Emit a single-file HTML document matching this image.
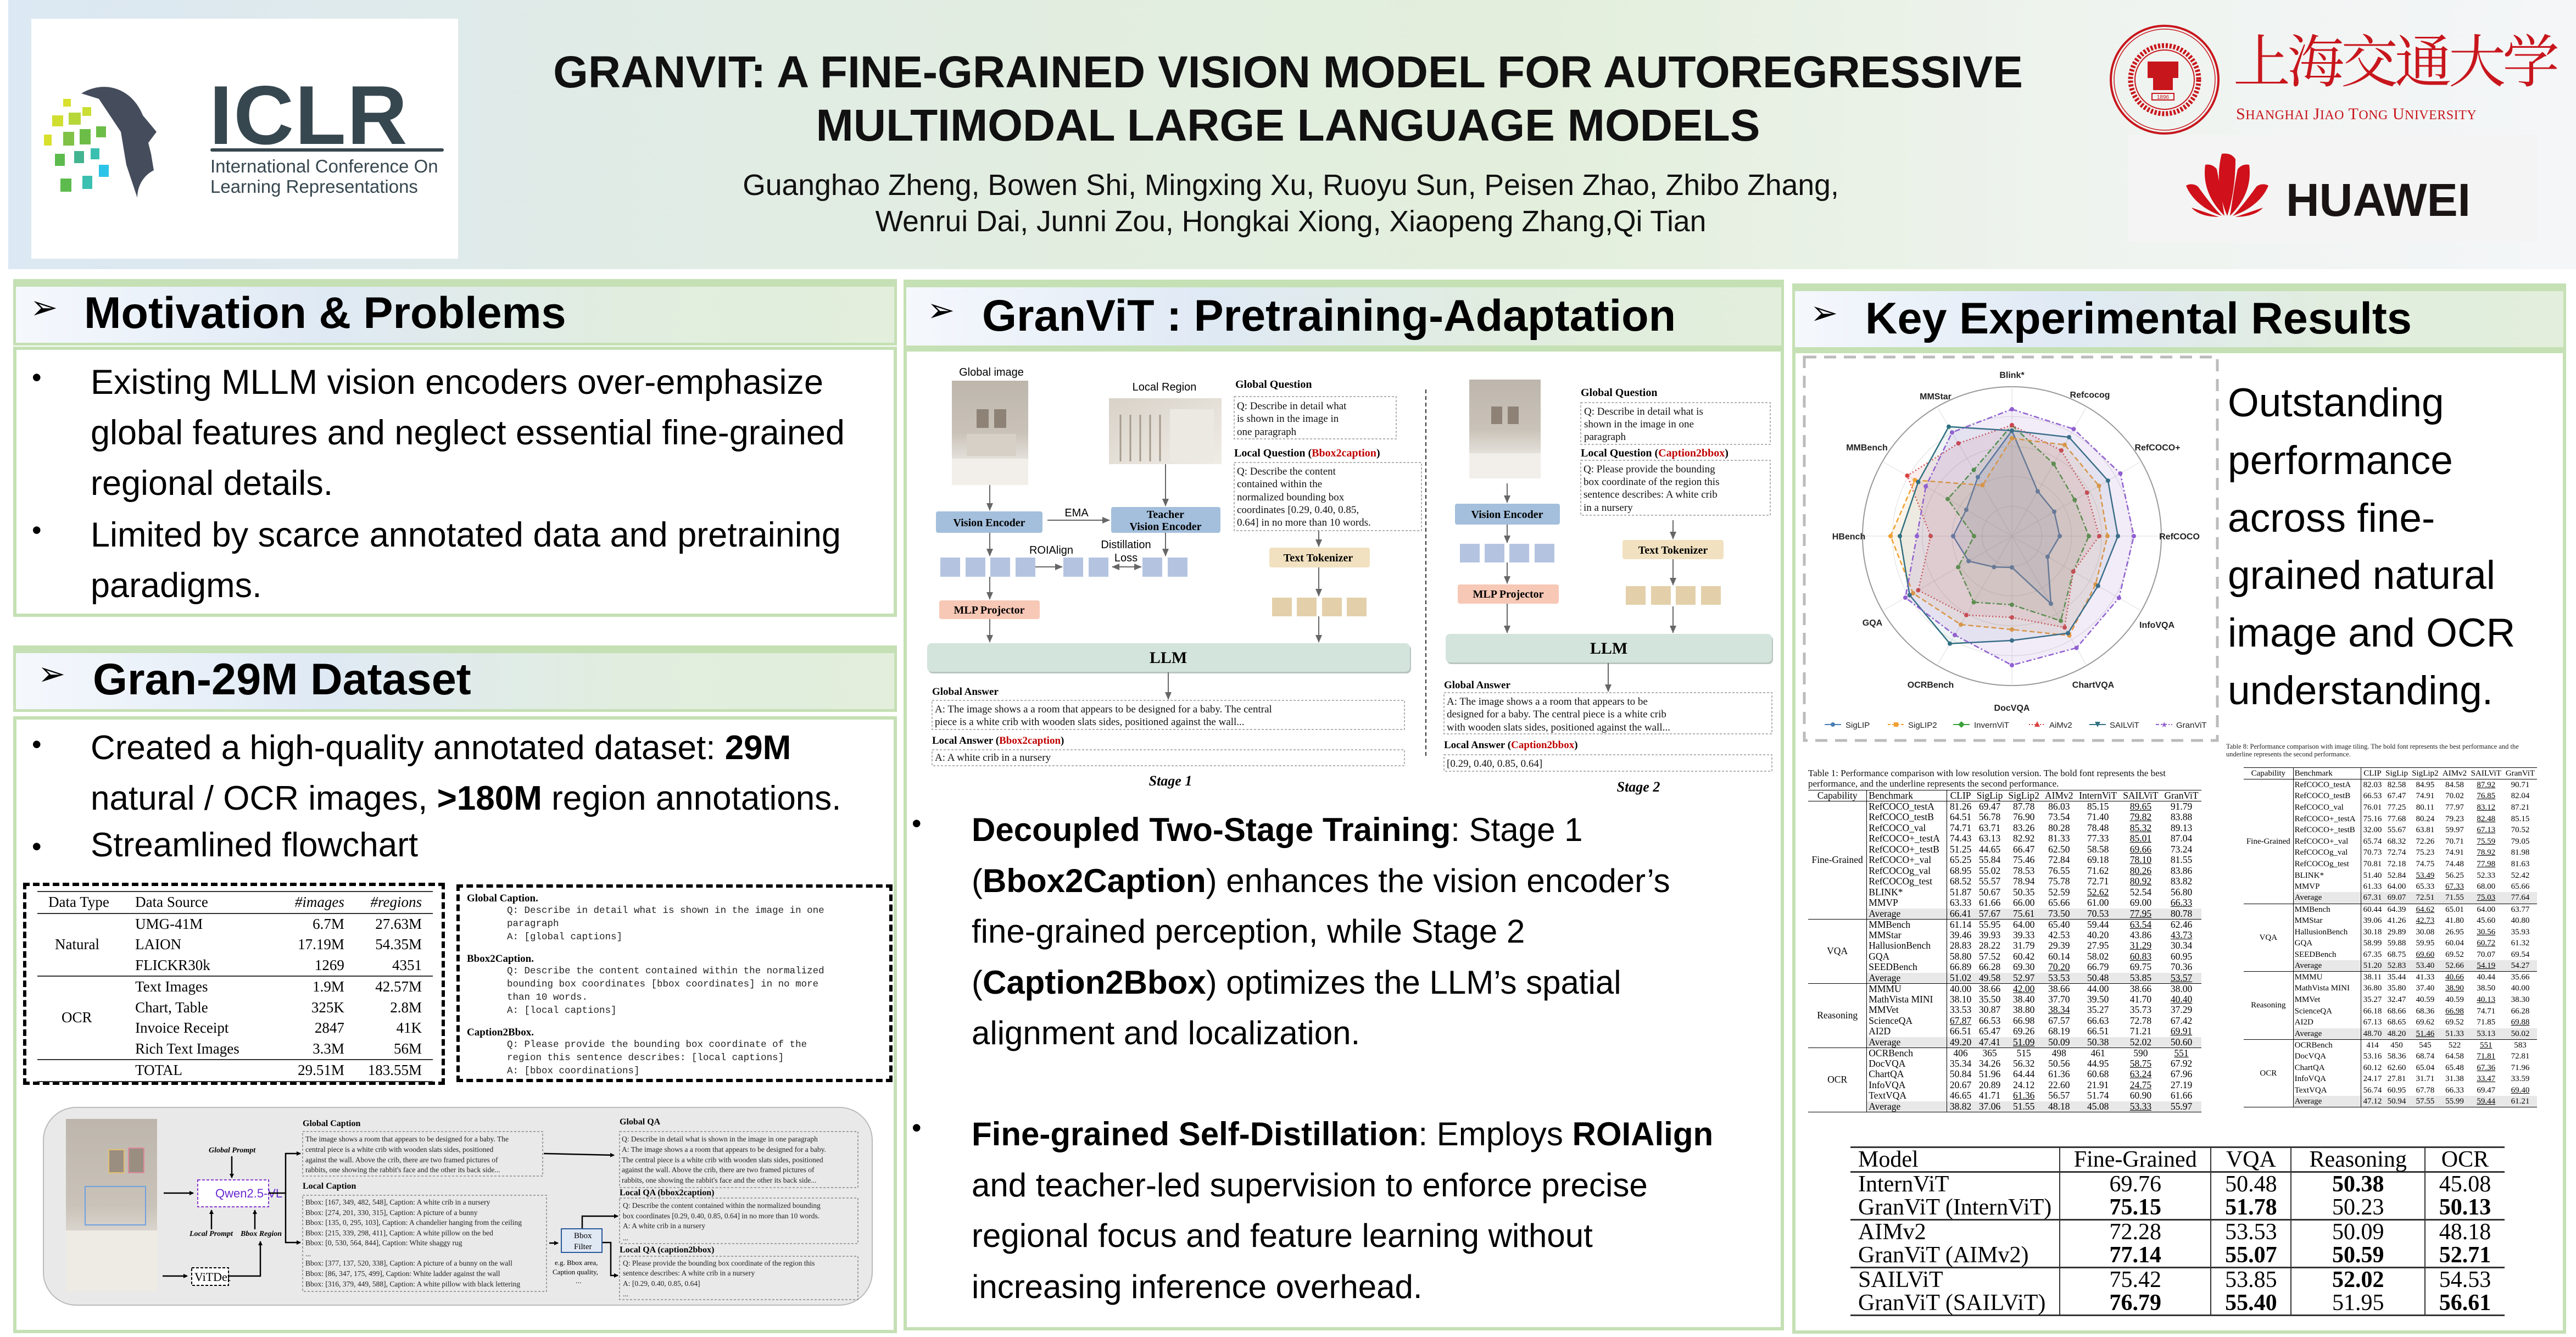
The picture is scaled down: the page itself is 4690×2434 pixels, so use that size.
<!DOCTYPE html>
<html><head><meta charset="utf-8">
<style>
*{margin:0;padding:0;box-sizing:border-box}
body{width:4690px;height:2434px;position:relative;background:#fff;font-family:"Liberation Sans",Arial,sans-serif;color:#000;overflow:hidden}
.a{position:absolute}
.hdr{position:absolute;border:5px solid #c5e0b4;border-top:14px solid #c5e0b4;background:linear-gradient(to right,#f5f8fd 0%,#dfe9f4 35%,#e1edde 70%,#e3efdc 100%)}
.hdr span{position:absolute;font-weight:bold;font-size:81px;white-space:nowrap;line-height:1}
.box{position:absolute;border:6px solid #c5e0b4;background:#fff}
.bl{position:absolute;font-size:60px;white-space:nowrap;line-height:1}
.dot{position:absolute;font-size:50px;line-height:1}
table{border-collapse:collapse;font-family:"Liberation Serif",serif}
.t1 td,.t1 th{font-size:17.5px;font-weight:normal;padding:0 3px;height:19.5px;line-height:19px;white-space:nowrap}
.t8 td,.t8 th{font-size:15px;font-weight:normal;padding:0 2px;height:20.6px;line-height:20px;white-space:nowrap}
.num td{text-align:center}
.gr td{background:#e8e8e8}
.bt{border-top:1.5px solid #000}
.vl{border-left:1px solid #000}
.b{font-weight:bold}
.u{text-decoration:underline}
.t3 td{font-family:"Liberation Serif",serif;font-size:42px;line-height:42px;height:42.5px;padding:0 14px;white-space:nowrap}
</style></head><body>

<!-- HEADER -->
<div class="a" style="left:15px;top:0;width:4675px;height:490px;background:linear-gradient(to right,#dce8f3 0%,#e1ece3 30%,#e3efdc 60%,#eef3ee 80%,#f4f6f8 100%)"></div>
<div class="a" style="left:57px;top:34px;width:777px;height:437px;background:#fff"></div>
<div class="a" style="left:381px;top:134px;font-size:152px;font-weight:bold;color:#37474f;line-height:1;letter-spacing:2px">ICLR</div>
<div class="a" style="left:383px;top:270px;width:425px;height:6px;background:#37474f;border-radius:3px"></div>
<div class="a" style="left:383px;top:284px;font-size:33px;color:#37474f;line-height:37px;white-space:nowrap">International Conference On<br>Learning Representations</div>
<svg class="a" style="left:70px;top:150px" width="260" height="215" viewBox="0 0 260 215">
<path d="M78 20 C120 -5 170 10 190 60 L215 90 L200 110 L205 130 L210 160 C190 170 180 190 180 210 L160 150 L150 90 L130 60 L110 30 Z" fill="#454d5c"/>
<g fill="#9cc93f"><rect x="45" y="30" width="14" height="14" fill="#d8e02c"/><rect x="25" y="60" width="20" height="20" fill="#d0de30"/><rect x="55" y="55" width="22" height="22" fill="#b6d63a"/><rect x="80" y="45" width="16" height="16" fill="#cade33"/><rect x="10" y="95" width="14" height="20" fill="#d8e02c"/><rect x="45" y="90" width="20" height="25" fill="#7fc245"/><rect x="75" y="85" width="20" height="28" fill="#6cbd47"/><rect x="105" y="80" width="18" height="20" fill="#6cbd47"/><rect x="30" y="130" width="18" height="22" fill="#5dbb4d"/><rect x="65" y="125" width="18" height="22" fill="#43b48f"/><rect x="95" y="120" width="16" height="20" fill="#3abfb0"/><rect x="110" y="150" width="18" height="22" fill="#2bc3e8"/><rect x="40" y="175" width="20" height="24" fill="#5dbb4d"/><rect x="80" y="170" width="18" height="24" fill="#3abfb0"/></g>
</svg>

<div class="a" style="left:937px;top:91px;width:2816px;text-align:center;font-size:82px;font-weight:bold;color:#111;line-height:1;white-space:nowrap">GRANVIT: A FINE-GRAINED VISION MODEL FOR AUTOREGRESSIVE</div>
<div class="a" style="left:937px;top:188px;width:2816px;text-align:center;font-size:82px;font-weight:bold;color:#111;line-height:1;white-space:nowrap">MULTIMODAL LARGE LANGUAGE MODELS</div>
<div class="a" style="left:1200px;top:305px;width:2300px;text-align:center;font-size:53.5px;line-height:66px;color:#111;white-space:nowrap">Guanghao Zheng, Bowen Shi, Mingxing Xu, Ruoyu Sun, Peisen Zhao, Zhibo Zhang,<br>Wenrui Dai, Junni Zou, Hongkai Xiong, Xiaopeng Zhang,Qi Tian</div>

<!-- SJTU -->
<svg class="a" style="left:3838px;top:42px" width="206" height="206" viewBox="0 0 206 206">
<circle cx="103" cy="103" r="98" fill="none" stroke="#c8161d" stroke-width="4"/>
<circle cx="103" cy="103" r="92" fill="none" stroke="#c8161d" stroke-width="1.5"/>
<circle cx="103" cy="103" r="62" fill="none" stroke="#c8161d" stroke-width="9" stroke-dasharray="4 3"/>
<circle cx="103" cy="103" r="54" fill="none" stroke="#c8161d" stroke-width="2"/>
<rect x="72" y="70" width="56" height="30" fill="#c8161d"/><rect x="82" y="100" width="36" height="22" fill="#c8161d"/>
<rect x="80" y="128" width="40" height="12" fill="none" stroke="#c8161d" stroke-width="2"/>
<text x="100" y="138" font-size="10" fill="#c8161d" text-anchor="middle" font-family="Liberation Sans">1896</text>
</svg>
<div class="a" style="left:4066px;top:52px;font-family:'Noto Serif CJK SC','Noto Sans CJK SC',serif;font-size:104px;color:#c8161d;line-height:1;white-space:nowrap;letter-spacing:-6px">上海交通大学</div>
<div class="a" style="left:4071px;top:193px;font-family:'Liberation Serif',serif;font-size:30px;color:#c8161d;white-space:nowrap;line-height:1;letter-spacing:0.5px">S<span style="font-size:24px">HANGHAI</span> J<span style="font-size:24px">IAO</span> T<span style="font-size:24px">ONG</span> U<span style="font-size:24px">NIVERSITY</span></div>
<div class="a" style="left:3874px;top:246px;width:746px;height:194px;background:#f4f4f4"></div>
<svg class="a" style="left:3970px;top:278px" width="170" height="118" viewBox="0 0 170 118">
<g fill="#d0101a">
<path d="M85 115 C70 80 65 40 75 2 C88 0 96 5 100 12 C100 50 95 85 85 115Z"/>
<path d="M80 115 C55 90 40 60 45 22 C55 20 62 25 66 30 C72 60 76 90 80 115Z"/>
<path d="M90 115 C115 90 130 60 125 22 C115 20 108 25 104 30 C98 60 94 90 90 115Z"/>
<path d="M75 115 C45 105 20 85 10 60 C18 55 28 58 32 62 C45 80 60 100 75 115Z"/>
<path d="M95 115 C125 105 150 85 160 60 C152 55 142 58 138 62 C125 80 110 100 95 115Z"/>
<path d="M72 117 C50 117 30 112 20 100 L70 117Z"/>
<path d="M98 117 C120 117 140 112 150 100 L100 117Z"/>
</g></svg>
<div class="a" style="left:4162px;top:322px;font-size:84px;font-weight:bold;color:#1a1414;line-height:1">HUAWEI</div>

<!-- COLUMN 1 -->
<div class="hdr" style="left:24px;top:508px;width:1609px;height:121px"><span style="left:26px;top:8px;font-size:60px;font-weight:normal">➢</span><span style="left:124px;top:8px">Motivation &amp; Problems</span></div>
<div class="box" style="left:24px;top:631px;width:1609px;height:492px"></div>
<div class="dot" style="left:58px;top:662px">•</div>
<div class="bl" style="left:165px;top:650px;line-height:92px;font-size:63px">Existing MLLM vision encoders over-emphasize<br>global features and neglect essential fine-grained<br>regional details.</div>
<div class="dot" style="left:58px;top:940px">•</div>
<div class="bl" style="left:165px;top:928px;line-height:92px;font-size:63px">Limited by scarce annotated data and pretraining<br>paradigms.</div>

<div class="hdr" style="left:24px;top:1175px;width:1609px;height:121px"><span style="left:40px;top:8px;font-size:60px;font-weight:normal">➢</span><span style="left:140px;top:8px">Gran-29M Dataset</span></div>
<div class="box" style="left:24px;top:1304px;width:1609px;height:1123px"></div>
<div class="dot" style="left:58px;top:1330px">•</div>
<div class="bl" style="left:165px;top:1316px;line-height:92px;font-size:62px">Created a high-quality annotated dataset: <b>29M</b><br>natural / OCR images, <b>&gt;180M</b> region annotations.</div>
<div class="dot" style="left:58px;top:1516px">•</div>
<div class="bl" style="left:165px;top:1508px;font-size:62px">Streamlined flowchart</div>

<!-- dataset table -->
<div class="a" style="left:42px;top:1607px;width:768px;height:368px;border:6px dashed #000"></div>
<div class="a" style="left:831px;top:1610px;width:794px;height:360px;border:6px dashed #000"></div>
<table class="a" style="left:68px;top:1622px;width:720px;font-size:27px;line-height:37.5px;border-top:2px solid #333;border-bottom:2px solid #333">
<tr style="border-bottom:2px solid #333"><td style="padding-left:20px">Data Type</td><td>Data Source</td><td style="text-align:right;font-style:italic">#images</td><td style="text-align:right;font-style:italic;padding-right:20px">#regions</td></tr>
<tr><td rowspan="3" style="padding-left:32px">Natural</td><td>UMG-41M</td><td align="right">6.7M</td><td align="right" style="padding-right:20px">27.63M</td></tr>
<tr><td>LAION</td><td align="right">17.19M</td><td align="right" style="padding-right:20px">54.35M</td></tr>
<tr style="border-bottom:2px solid #333"><td>FLICKR30k</td><td align="right">1269</td><td align="right" style="padding-right:20px">4351</td></tr>
<tr><td rowspan="4" style="padding-left:44px">OCR</td><td>Text Images</td><td align="right">1.9M</td><td align="right" style="padding-right:20px">42.57M</td></tr>
<tr><td>Chart, Table</td><td align="right">325K</td><td align="right" style="padding-right:20px">2.8M</td></tr>
<tr><td>Invoice Receipt</td><td align="right">2847</td><td align="right" style="padding-right:20px">41K</td></tr>
<tr style="border-bottom:2px solid #333"><td>Rich Text Images</td><td align="right">3.3M</td><td align="right" style="padding-right:20px">56M</td></tr>
<tr><td></td><td>TOTAL</td><td align="right">29.51M</td><td align="right" style="padding-right:20px">183.55M</td></tr>
</table>
<div class="a" style="left:850px;top:1624px;font-family:'Liberation Serif',serif;font-weight:bold;font-size:19px;line-height:24px;white-space:nowrap">Global Caption.</div>
<div class="a" style="left:923px;top:1646px;font-family:'Liberation Mono',monospace;font-size:17.5px;line-height:24px;white-space:nowrap;color:#222">Q: Describe in detail what is shown in the image in one<br>paragraph<br>A: [global captions]</div>
<div class="a" style="left:850px;top:1734px;font-family:'Liberation Serif',serif;font-weight:bold;font-size:19px;line-height:24px">Bbox2Caption.</div>
<div class="a" style="left:923px;top:1756px;font-family:'Liberation Mono',monospace;font-size:17.5px;line-height:24px;white-space:nowrap;color:#222">Q: Describe the content contained within the normalized<br>bounding box coordinates [bbox coordinates] in no more<br>than 10 words.<br>A: [local captions]</div>
<div class="a" style="left:850px;top:1868px;font-family:'Liberation Serif',serif;font-weight:bold;font-size:19px;line-height:24px">Caption2Bbox.</div>
<div class="a" style="left:923px;top:1890px;font-family:'Liberation Mono',monospace;font-size:17.5px;line-height:24px;white-space:nowrap;color:#222">Q: Please provide the bounding box coordinate of the<br>region this sentence describes:  [local captions]<br>A: [bbox coordinations]</div>

<!-- flowchart -->
<svg class="a" style="left:0;top:0" width="4690" height="2434" viewBox="0 0 4690 2434">
<defs>
<marker id="ah" markerWidth="8" markerHeight="8" refX="7" refY="4" orient="auto" markerUnits="userSpaceOnUse"><path d="M0 0 L8 4 L0 8Z" fill="#000"/></marker>
<marker id="ag" markerWidth="14" markerHeight="12" refX="13" refY="6" orient="auto" markerUnits="userSpaceOnUse"><path d="M0 0 L14 6 L0 12Z" fill="#666"/></marker>
<marker id="ag2" markerWidth="14" markerHeight="12" refX="1" refY="6" orient="auto" markerUnits="userSpaceOnUse"><path d="M14 0 L0 6 L14 12Z" fill="#666"/></marker>
<linearGradient id="room" x1="0" y1="0" x2="0" y2="1"><stop offset="0" stop-color="#bdb6ac"/><stop offset="0.5" stop-color="#c9c2b8"/><stop offset="0.8" stop-color="#e9e6e1"/><stop offset="1" stop-color="#d8d3cc"/></linearGradient>
<linearGradient id="crib" x1="0" y1="0" x2="1" y2="1"><stop offset="0" stop-color="#d8d2c8"/><stop offset="1" stop-color="#f0ece6"/></linearGradient>
</defs>
<rect x="79" y="2016" width="1509" height="360" rx="60" fill="#e9e9e9" stroke="#bbb" stroke-width="2"/>
<rect x="120" y="2037" width="166" height="314" fill="url(#room)"/>
<rect x="120" y="2240" width="166" height="111" fill="#eeeae4"/>
<rect x="198" y="2093" width="28" height="42" fill="#9a8e80" stroke="#e4c070" stroke-width="2"/><rect x="234" y="2090" width="28" height="45" fill="#9a8e80" stroke="#e08aa0" stroke-width="2"/>
<rect x="155" y="2160" width="110" height="70" fill="none" stroke="#6ea0e0" stroke-width="2"/>
<rect x="360" y="2148" width="129" height="49" fill="#fff" stroke="#8a3ad0" stroke-width="2" stroke-dasharray="5 3"/>
<text x="392" y="2180" font-family="Liberation Sans" font-size="22" fill="#6a2bd0">Qwen2.5-VL</text>
<rect x="349" y="2308" width="67" height="32" fill="#fff" stroke="#000" stroke-width="2" stroke-dasharray="5 3"/>
<text x="354" y="2332" font-family="Liberation Serif" font-size="22">ViTDet</text>
<g font-family="Liberation Serif" font-style="italic" font-weight="bold" font-size="14">
<text x="380" y="2098">Global Prompt</text><text x="345" y="2250">Local Prompt</text><text x="438" y="2250">Bbox Region</text></g>
<g stroke="#000" stroke-width="2.5" fill="none" marker-end="url(#ah)">
<path d="M298 2172 L352 2172"/><path d="M422 2105 L422 2144"/><path d="M385 2238 L385 2203"/><path d="M464 2238 L464 2203"/>
<path d="M296 2323 L341 2323"/><path d="M416 2323 L474 2323 L474 2260"/>
<path d="M489 2172 L520 2172 L520 2100 L547 2100"/><path d="M520 2172 L520 2262 L547 2262"/>
<path d="M990 2100 L1118 2103"/><path d="M1000 2263 L1016 2263"/>
<path d="M1060 2237 L1060 2214 L1125 2214"/><path d="M1096 2262 L1112 2262 L1112 2322 L1125 2322"/></g>
<rect x="1022" y="2237" width="74" height="43" fill="#e0e8f4" stroke="#2a5a9a" stroke-width="2"/>
<text x="1045" y="2254" font-family="Liberation Serif" font-size="15">Bbox</text><text x="1045" y="2274" font-family="Liberation Serif" font-size="15">Filter</text>
<text x="1010" y="2303" font-family="Liberation Serif" font-size="13">e.g. Bbox area,</text><text x="1006" y="2320" font-family="Liberation Serif" font-size="13">Caption quality,</text><text x="1048" y="2336" font-size="13">...</text>
<g fill="none" stroke="#888" stroke-width="1.5" stroke-dasharray="4 3">
<rect x="551" y="2060" width="437" height="81"/><rect x="551" y="2176" width="444" height="175"/>
<rect x="1128" y="2060" width="434" height="102"/><rect x="1128" y="2181" width="434" height="83"/><rect x="1128" y="2287" width="434" height="79"/></g>
<g font-family="Liberation Serif" font-weight="bold" font-size="16">
<text x="551" y="2050">Global Caption</text><text x="551" y="2164">Local Caption</text><text x="1128" y="2047">Global QA</text><text x="1128" y="2176">Local QA (bbox2caption)</text><text x="1128" y="2280">Local QA (caption2bbox)</text></g>
<g font-family="Liberation Serif" font-size="13.5" fill="#222">
<text x="556" y="2078">The image shows a room that appears to be designed for a baby. The</text>
<text x="556" y="2097">central piece is a white crib with wooden slats sides, positioned</text>
<text x="556" y="2116">against the wall. Above the crib, there are two framed pictures of</text>
<text x="556" y="2134">rabbits, one showing the rabbit's face and the other its back side...</text>
<text x="556" y="2193">Bbox: [167, 349, 482, 548], Caption: A white crib in a nursery</text>
<text x="556" y="2212">Bbox: [274, 201, 330, 315], Caption: A picture of a bunny</text>
<text x="556" y="2230">Bbox: [135, 0, 295, 103], Caption: A chandelier hanging from the ceiling</text>
<text x="556" y="2249">Bbox: [215, 339, 298, 411], Caption: A white pillow on the bed</text>
<text x="556" y="2267">Bbox: [0, 530, 564, 844], Caption: White shaggy rug</text>
<text x="556" y="2287">...</text>
<text x="556" y="2304">Bbox: [377, 137, 520, 338], Caption: A picture of a bunny on the wall</text>
<text x="556" y="2323">Bbox: [86, 347, 175, 499], Caption: White ladder against the wall</text>
<text x="556" y="2342">Bbox: [316, 379, 449, 588], Caption: A white pillow with black lettering</text>
<text x="1132" y="2078">Q: Describe in detail what is shown in the image in one paragraph</text>
<text x="1132" y="2097">A: The image shows a a room that appears to be designed for a baby.</text>
<text x="1132" y="2116">The central piece is a white crib with wooden slats sides, positioned</text>
<text x="1132" y="2134">against the wall. Above the crib, there are two framed pictures of</text>
<text x="1132" y="2153">rabbits, one showing the rabbit's face and the other its back side...</text>
<text x="1134" y="2199">Q: Describe the content contained within the normalized bounding</text>
<text x="1134" y="2218">box coordinates [0.29, 0.40, 0.85, 0.64] in no more than 10 words.</text>
<text x="1134" y="2236">A: A white crib in a nursery</text><text x="1134" y="2258">...</text>
<text x="1134" y="2304">Q: Please provide the bounding box coordinate of the region this</text>
<text x="1134" y="2322">sentence describes: A white crib in a nursery</text>
<text x="1134" y="2341">A: [0.29, 0.40, 0.85, 0.64]</text><text x="1134" y="2360">...</text>
</g>

<!-- MIDDLE FIGURE -->
<g font-family="Liberation Sans">
<text x="1805" y="684" font-size="20" text-anchor="middle">Global image</text>
<rect x="1733" y="693" width="139" height="190" fill="url(#room)"/>
<rect x="1733" y="835" width="139" height="48" fill="#f2efea"/>
<rect x="1778" y="745" width="22" height="34" fill="#8e8276"/><rect x="1810" y="745" width="22" height="34" fill="#8e8276"/>
<rect x="1760" y="790" width="90" height="40" fill="#d6d0c6"/>
<text x="2120" y="711" font-size="20" text-anchor="middle">Local Region</text>
<rect x="2019" y="725" width="205" height="120" fill="url(#crib)"/>
<g stroke="#a59a8c" stroke-width="3"><line x1="2040" y1="755" x2="2040" y2="840"/><line x1="2058" y1="755" x2="2058" y2="840"/><line x1="2076" y1="755" x2="2076" y2="840"/><line x1="2094" y1="755" x2="2094" y2="840"/><line x1="2112" y1="755" x2="2112" y2="840"/></g>
<rect x="2130" y="745" width="80" height="95" fill="#ece8e2"/>

<text x="2249" y="706" font-family="Liberation Serif" font-weight="bold" font-size="20">Global Question</text>
<text x="2247" y="831" font-family="Liberation Serif" font-weight="bold" font-size="20">Local Question (<tspan fill="#c00000">Bbox2caption</tspan>)</text>
<text x="2878" y="721" font-family="Liberation Serif" font-weight="bold" font-size="20">Global Question</text>
<text x="2878" y="831" font-family="Liberation Serif" font-weight="bold" font-size="20">Local Question (<tspan fill="#c00000">Caption2bbox</tspan>)</text>
<g fill="none" stroke="#999" stroke-width="1.5" stroke-dasharray="4 3">
<rect x="2247" y="722" width="295" height="77"/><rect x="2247" y="842" width="341" height="124"/>
<rect x="2878" y="733" width="345" height="76"/><rect x="2878" y="838" width="345" height="100"/>
<rect x="1697" y="1275" width="860" height="53"/><rect x="1697" y="1365" width="860" height="29"/>
<rect x="2629" y="1261" width="597" height="75"/><rect x="2629" y="1374" width="597" height="30"/></g>
<line x1="2596" y1="709" x2="2596" y2="1377" stroke="#333" stroke-width="2" stroke-dasharray="7 5"/>
<g font-family="Liberation Serif" font-size="19" fill="#111">
<text x="2252" y="745">Q: Describe in detail what</text><text x="2252" y="768">is shown in the image in</text><text x="2252" y="792">one paragraph</text>
<text x="2252" y="864">Q: Describe the content</text><text x="2252" y="887">contained within the</text><text x="2252" y="911">normalized bounding box</text><text x="2252" y="934">coordinates [0.29, 0.40, 0.85,</text><text x="2252" y="957">0.64] in no more than 10 words.</text>
<text x="2884" y="755">Q: Describe in detail what is</text><text x="2884" y="778">shown in the image in one</text><text x="2884" y="801">paragraph</text>
<text x="2883" y="860">Q: Please provide the bounding</text><text x="2883" y="883">box coordinate of the region this</text><text x="2883" y="906">sentence describes: A white crib</text><text x="2883" y="930">in a nursery</text>
<text x="1702" y="1297">A: The image shows a a room that appears to be designed for a baby. The central</text>
<text x="1702" y="1320">piece is a white crib with wooden slats sides, positioned against the wall...</text>
<text x="1702" y="1385">A: A white crib in a nursery</text>
<text x="2634" y="1283">A: The image shows a a room that appears to be</text><text x="2634" y="1306">designed for a baby. The central piece is a white crib</text><text x="2634" y="1330">with wooden slats sides, positioned against the wall...</text>
<text x="2634" y="1396">[0.29, 0.40, 0.85, 0.64]</text>
</g>
<g font-family="Liberation Serif" font-weight="bold" font-size="19">
<text x="1697" y="1265">Global Answer</text><text x="1697" y="1354">Local Answer (<tspan fill="#c00000">Bbox2caption</tspan>)</text>
<text x="2629" y="1253">Global Answer</text><text x="2629" y="1362">Local Answer (<tspan fill="#c00000">Caption2bbox</tspan>)</text></g>
<g font-family="Liberation Serif" font-weight="bold" font-style="italic" font-size="26"><text x="2131" y="1430" text-anchor="middle">Stage 1</text><text x="2983" y="1441" text-anchor="middle">Stage 2</text></g>

<g font-family="Liberation Serif" font-weight="bold" font-size="20" text-anchor="middle">
<rect x="1704" y="931" width="194" height="39" rx="4" fill="#a3bfdc"/><text x="1801" y="958">Vision Encoder</text>
<rect x="2023" y="923" width="199" height="47" rx="4" fill="#a3bfdc"/><text x="2122" y="943">Teacher</text><text x="2122" y="965">Vision Encoder</text>
<rect x="1710" y="1093" width="183" height="34" rx="4" fill="#f7c8b6"/><text x="1801" y="1117">MLP Projector</text>
<rect x="2311" y="997" width="183" height="36" rx="4" fill="#f1e1c0"/><text x="2400" y="1022">Text Tokenizer</text>
<rect x="2649" y="917" width="191" height="38" rx="4" fill="#a3bfdc"/><text x="2744" y="943">Vision Encoder</text>
<rect x="2654" y="1064" width="184" height="35" rx="4" fill="#f7c8b6"/><text x="2746" y="1088">MLP Projector</text>
<rect x="2954" y="983" width="184" height="35" rx="4" fill="#f1e1c0"/><text x="3046" y="1008">Text Tokenizer</text>
<rect x="1690" y="1174" width="879" height="52" rx="8" fill="#b9c5c0"/>
<rect x="1688" y="1171" width="879" height="52" rx="8" fill="#d3e4dc"/><text x="2127" y="1207" font-size="30">LLM</text>
<rect x="2634" y="1157" width="594" height="52" rx="8" fill="#b9c5c0"/>
<rect x="2632" y="1154" width="594" height="52" rx="8" fill="#d3e4dc"/><text x="2929" y="1190" font-size="30">LLM</text>
</g>
<text x="1960" y="940" font-size="20" text-anchor="middle">EMA</text>
<text x="1914" y="1008" font-size="20" text-anchor="middle">ROIAlign</text>
<text x="2050" y="998" font-size="20" text-anchor="middle">Distillation</text><text x="2050" y="1022" font-size="20" text-anchor="middle">Loss</text>
<g fill="#b4c4e0"><rect x="1712" y="1015" width="36" height="35"/><rect x="1758" y="1015" width="36" height="35"/><rect x="1803" y="1015" width="36" height="35"/><rect x="1849" y="1015" width="36" height="35"/>
<rect x="1936" y="1015" width="36" height="35"/><rect x="1982" y="1015" width="36" height="35"/><rect x="2080" y="1015" width="36" height="35"/><rect x="2126" y="1015" width="36" height="35"/>
<rect x="2658" y="990" width="36" height="34"/><rect x="2703" y="990" width="36" height="34"/><rect x="2748" y="990" width="36" height="34"/><rect x="2794" y="990" width="36" height="34"/></g>
<g fill="#e3d0aa"><rect x="2316" y="1088" width="36" height="34"/><rect x="2361" y="1088" width="36" height="34"/><rect x="2407" y="1088" width="36" height="34"/><rect x="2452" y="1088" width="36" height="34"/>
<rect x="2960" y="1067" width="36" height="34"/><rect x="3006" y="1067" width="36" height="34"/><rect x="3051" y="1067" width="36" height="34"/><rect x="3097" y="1067" width="36" height="34"/></g>
<g stroke="#666" stroke-width="2" fill="none" marker-end="url(#ag)">
<path d="M1802 883 L1802 929"/><path d="M2122 845 L2122 921"/><path d="M1907 947 L2020 947"/>
<path d="M1802 970 L1802 1012"/><path d="M1885 1032 L1934 1032"/><path d="M2122 970 L2122 1012"/>
<path d="M1802 1050 L1802 1091"/><path d="M1802 1127 L1802 1169"/>
<path d="M2401 966 L2401 995"/><path d="M2401 1033 L2401 1085"/><path d="M2401 1122 L2401 1169"/>
<path d="M2127 1224 L2127 1273"/>
<path d="M2744 880 L2744 915"/><path d="M2744 955 L2744 988"/><path d="M2744 1024 L2744 1062"/><path d="M2744 1099 L2744 1152"/>
<path d="M3046 947 L3046 981"/><path d="M3046 1018 L3046 1065"/><path d="M3046 1104 L3046 1152"/>
<path d="M2928 1207 L2928 1259"/>
<path d="M2025 1032 L2078 1032" marker-start="url(#ag2)"/></g>
<rect x="2675" y="691" width="130" height="180" fill="url(#room)"/>
<rect x="2675" y="825" width="130" height="46" fill="#f2efea"/>
<rect x="2715" y="740" width="20" height="32" fill="#8e8276"/><rect x="2745" y="740" width="20" height="32" fill="#8e8276"/>
</g>

<!-- RADAR -->
<rect x="3285" y="650" width="752" height="698" fill="none" stroke="#bbb" stroke-width="5" stroke-dasharray="22 14"/>
<g id="radar"></g>
<g font-family="Liberation Sans" font-weight="bold" font-size="16" text-anchor="middle" fill="#222">
<text x="3663" y="688">Blink*</text><text x="3805" y="724">Refcocog</text><text x="3928" y="820">RefCOCO+</text><text x="3968" y="982">RefCOCO</text>
<text x="3927" y="1143">InfoVQA</text><text x="3811" y="1252">ChartVQA</text><text x="3663" y="1294">DocVQA</text><text x="3515" y="1252">OCRBench</text>
<text x="3409" y="1139">GQA</text><text x="3366" y="982">HBench</text><text x="3399" y="820">MMBench</text><text x="3524" y="727">MMStar</text></g>
<g font-family="Liberation Sans" font-size="15" fill="#222">
<line x1="3322" y1="1319" x2="3352" y2="1319" stroke="#4a7fb5" stroke-width="2"/><circle cx="3337" cy="1319" r="4" fill="#4a7fb5"/><text x="3360" y="1325">SigLIP</text>
<line x1="3437" y1="1319" x2="3467" y2="1319" stroke="#f0a030" stroke-width="2" stroke-dasharray="5 3"/><rect x="3448" y="1315" width="8" height="8" fill="#f0a030"/><text x="3474" y="1325">SigLIP2</text>
<line x1="3556" y1="1319" x2="3586" y2="1319" stroke="#3aa03a" stroke-width="2"/><path d="M3571 1313 L3577 1319 L3571 1325 L3565 1319Z" fill="#3aa03a"/><text x="3594" y="1325">InvernViT</text>
<line x1="3694" y1="1319" x2="3724" y2="1319" stroke="#d94040" stroke-width="2" stroke-dasharray="2 3"/><path d="M3709 1313 L3714 1323 L3704 1323Z" fill="#d94040"/><text x="3731" y="1325">AiMv2</text>
<line x1="3804" y1="1319" x2="3834" y2="1319" stroke="#2f7080" stroke-width="2"/><path d="M3814 1314 L3824 1314 L3819 1324Z" fill="#2f7080"/><text x="3841" y="1325">SAILViT</text>
<line x1="3925" y1="1319" x2="3955" y2="1319" stroke="#9060d0" stroke-width="2" stroke-dasharray="6 3 2 3"/><text x="3934" y="1324" fill="#9060d0" font-size="14">★</text><text x="3962" y="1325">GranViT</text></g>
</svg>

<!-- COLUMN 2 -->
<div class="hdr" style="left:1645px;top:509px;width:1603px;height:125px"><span style="left:38px;top:12px;font-size:60px;font-weight:normal">➢</span><span style="left:138px;top:12px">GranViT : Pretraining-Adaptation</span></div>
<div class="box" style="left:1645px;top:634px;width:1603px;height:1788px;background:transparent"></div>
<div class="dot" style="left:1660px;top:1474px">•</div>
<div class="bl" style="left:1769px;top:1465px;line-height:92.5px">
<b>Decoupled Two-Stage Training</b>: Stage 1<br>(<b>Bbox2Caption</b>) enhances the vision encoder’s<br>fine-grained perception, while Stage 2<br>(<b>Caption2Bbox</b>) optimizes the LLM’s spatial<br>alignment and localization.</div>
<div class="dot" style="left:1660px;top:2028px">•</div>
<div class="bl" style="left:1769px;top:2019px;line-height:92.5px">
<b>Fine-grained Self-Distillation</b>: Employs <b>ROIAlign</b><br>and teacher-led supervision to enforce precise<br>regional focus and feature learning without<br>increasing inference overhead.</div>

<!-- COLUMN 3 -->
<div class="hdr" style="left:3263px;top:516px;width:1409px;height:121px"><span style="left:28px;top:10px;font-size:60px;font-weight:normal">➢</span><span style="left:128px;top:10px">Key Experimental Results</span></div>
<div class="box" style="left:3263px;top:637px;width:1409px;height:1791px;background:transparent"></div>
<div class="a" style="left:4056px;top:682px;font-size:73px;line-height:104.8px;white-space:nowrap">Outstanding<br>performance<br>across fine-<br>grained natural<br>image and OCR<br>understanding.</div>

<div class="a" style="left:4053px;top:1352px;width:570px;font-family:'Liberation Serif',serif;font-size:12.5px;line-height:14px;color:#222">Table 8: Performance comparison with image tiling. The bold font represents the best performance and the underline represents the second performance.</div>
<div class="a" style="left:3292px;top:1398px;width:720px;font-family:'Liberation Serif',serif;font-size:17px;line-height:19px;color:#111">Table 1:  Performance comparison with low resolution version.  The bold font represents the best performance, and the underline represents the second performance.</div>

<table class="a t1 num" style="left:3292px;top:1438px;width:716px;border-top:1.5px solid #000;border-bottom:1.5px solid #000">
<tr style="border-bottom:1.5px solid #000"><td>Capability</td><td class="vl" style="text-align:left">Benchmark</td><td class="vl">CLIP</td><td>SigLip</td><td>SigLip2</td><td>AIMv2</td><td>InternViT</td><td>SAILViT</td><td>GranViT</td></tr>
<tr><td rowspan="11" style="vertical-align:middle">Fine-Grained</td><td class="vl" style="text-align:left">RefCOCO_testA</td><td class="vl">81.26</td><td>69.47</td><td>87.78</td><td>86.03</td><td>85.15</td><td class="u">89.65</td><td class="b">91.79</td></tr>
<tr><td class="vl" style="text-align:left">RefCOCO_testB</td><td class="vl">64.51</td><td>56.78</td><td>76.90</td><td>73.54</td><td>71.40</td><td class="u">79.82</td><td class="b">83.88</td></tr>
<tr><td class="vl" style="text-align:left">RefCOCO_val</td><td class="vl">74.71</td><td>63.71</td><td>83.26</td><td>80.28</td><td>78.48</td><td class="u">85.32</td><td class="b">89.13</td></tr>
<tr><td class="vl" style="text-align:left">RefCOCO+_testA</td><td class="vl">74.43</td><td>63.13</td><td>82.92</td><td>81.33</td><td>77.33</td><td class="u">85.01</td><td class="b">87.04</td></tr>
<tr><td class="vl" style="text-align:left">RefCOCO+_testB</td><td class="vl">51.25</td><td>44.65</td><td>66.47</td><td>62.50</td><td>58.58</td><td class="u">69.66</td><td class="b">73.24</td></tr>
<tr><td class="vl" style="text-align:left">RefCOCO+_val</td><td class="vl">65.25</td><td>55.84</td><td>75.46</td><td>72.84</td><td>69.18</td><td class="u">78.10</td><td class="b">81.55</td></tr>
<tr><td class="vl" style="text-align:left">RefCOCOg_val</td><td class="vl">68.95</td><td>55.02</td><td>78.53</td><td>76.55</td><td>71.62</td><td class="u">80.26</td><td class="b">83.86</td></tr>
<tr><td class="vl" style="text-align:left">RefCOCOg_test</td><td class="vl">68.52</td><td>55.57</td><td>78.94</td><td>75.78</td><td>72.71</td><td class="u">80.92</td><td class="b">83.82</td></tr>
<tr><td class="vl" style="text-align:left">BLINK*</td><td class="vl">51.87</td><td>50.67</td><td>50.35</td><td>52.59</td><td class="u">52.62</td><td>52.54</td><td class="b">56.80</td></tr>
<tr><td class="vl" style="text-align:left">MMVP</td><td class="vl">63.33</td><td>61.66</td><td>66.00</td><td>65.66</td><td>61.00</td><td class="b">69.00</td><td class="u">66.33</td></tr>
<tr class="gr"><td class="vl" style="text-align:left">Average</td><td class="vl">66.41</td><td>57.67</td><td>75.61</td><td>73.50</td><td>70.53</td><td class="u">77.95</td><td class="b">80.78</td></tr>
<tr class="bt"><td rowspan="6">VQA</td><td class="vl" style="text-align:left">MMBench</td><td class="vl">61.14</td><td>55.95</td><td>64.00</td><td class="b">65.40</td><td>59.44</td><td class="u">63.54</td><td>62.46</td></tr>
<tr><td class="vl" style="text-align:left">MMStar</td><td class="vl">39.46</td><td>39.93</td><td>39.33</td><td>42.53</td><td>40.20</td><td class="b">43.86</td><td class="u">43.73</td></tr>
<tr><td class="vl" style="text-align:left">HallusionBench</td><td class="vl">28.83</td><td>28.22</td><td class="b">31.79</td><td>29.39</td><td>27.95</td><td class="u">31.29</td><td>30.34</td></tr>
<tr><td class="vl" style="text-align:left">GQA</td><td class="vl">58.80</td><td>57.52</td><td>60.42</td><td>60.14</td><td>58.02</td><td class="u">60.83</td><td class="b">60.95</td></tr>
<tr><td class="vl" style="text-align:left">SEEDBench</td><td class="vl">66.89</td><td>66.28</td><td>69.30</td><td class="u">70.20</td><td>66.79</td><td>69.75</td><td class="b">70.36</td></tr>
<tr class="gr"><td class="vl" style="text-align:left">Average</td><td class="vl">51.02</td><td>49.58</td><td>52.97</td><td>53.53</td><td>50.48</td><td class="b">53.85</td><td class="u">53.57</td></tr>
<tr class="bt"><td rowspan="6">Reasoning</td><td class="vl" style="text-align:left">MMMU</td><td class="vl">40.00</td><td>38.66</td><td class="u">42.00</td><td>38.66</td><td class="b">44.00</td><td>38.66</td><td>38.00</td></tr>
<tr><td class="vl" style="text-align:left">MathVista MINI</td><td class="vl">38.10</td><td>35.50</td><td>38.40</td><td>37.70</td><td>39.50</td><td class="b">41.70</td><td class="u">40.40</td></tr>
<tr><td class="vl" style="text-align:left">MMVet</td><td class="vl">33.53</td><td>30.87</td><td class="b">38.80</td><td class="u">38.34</td><td>35.27</td><td>35.73</td><td>37.29</td></tr>
<tr><td class="vl" style="text-align:left">ScienceQA</td><td class="vl u">67.87</td><td>66.53</td><td>66.98</td><td>67.57</td><td>66.63</td><td class="b">72.78</td><td>67.42</td></tr>
<tr><td class="vl" style="text-align:left">AI2D</td><td class="vl">66.51</td><td>65.47</td><td>69.26</td><td>68.19</td><td>66.51</td><td class="b">71.21</td><td class="u">69.91</td></tr>
<tr class="gr"><td class="vl" style="text-align:left">Average</td><td class="vl">49.20</td><td>47.41</td><td class="u">51.09</td><td>50.09</td><td>50.38</td><td class="b">52.02</td><td>50.60</td></tr>
<tr class="bt"><td rowspan="6">OCR</td><td class="vl" style="text-align:left">OCRBench</td><td class="vl">406</td><td>365</td><td>515</td><td>498</td><td>461</td><td class="b">590</td><td class="u">551</td></tr>
<tr><td class="vl" style="text-align:left">DocVQA</td><td class="vl">35.34</td><td>34.26</td><td>56.32</td><td>50.56</td><td>44.95</td><td class="u">58.75</td><td class="b">67.92</td></tr>
<tr><td class="vl" style="text-align:left">ChartQA</td><td class="vl">50.84</td><td>51.96</td><td>64.44</td><td>61.36</td><td>60.68</td><td class="u">63.24</td><td class="b">67.96</td></tr>
<tr><td class="vl" style="text-align:left">InfoVQA</td><td class="vl">20.67</td><td>20.89</td><td>24.12</td><td>22.60</td><td>21.91</td><td class="u">24.75</td><td class="b">27.19</td></tr>
<tr><td class="vl" style="text-align:left">TextVQA</td><td class="vl">46.65</td><td>41.71</td><td class="u">61.36</td><td>56.57</td><td>51.74</td><td>60.90</td><td class="b">61.66</td></tr>
<tr class="gr"><td class="vl" style="text-align:left">Average</td><td class="vl">38.82</td><td>37.06</td><td>51.55</td><td>48.18</td><td>45.08</td><td class="u">53.33</td><td class="b">55.97</td></tr>
</table>

<table class="a t8 num" style="left:4085px;top:1397px;width:534px;border-top:1.5px solid #000;border-bottom:1.5px solid #000">
<tr style="border-bottom:1.5px solid #000"><td>Capability</td><td class="vl" style="text-align:left">Benchmark</td><td class="vl">CLIP</td><td>SigLip</td><td>SigLip2</td><td>AIMv2</td><td>SAILViT</td><td>GranViT</td></tr>
<tr><td rowspan="11">Fine-Grained</td><td class="vl" style="text-align:left">RefCOCO_testA</td><td class="vl">82.03</td><td>82.58</td><td>84.95</td><td>84.58</td><td class="u">87.92</td><td class="b">90.71</td></tr>
<tr><td class="vl" style="text-align:left">RefCOCO_testB</td><td class="vl">66.53</td><td>67.47</td><td>74.91</td><td>70.02</td><td class="u">76.85</td><td class="b">82.04</td></tr>
<tr><td class="vl" style="text-align:left">RefCOCO_val</td><td class="vl">76.01</td><td>77.25</td><td>80.11</td><td>77.97</td><td class="u">83.12</td><td class="b">87.21</td></tr>
<tr><td class="vl" style="text-align:left">RefCOCO+_testA</td><td class="vl">75.16</td><td>77.68</td><td>80.24</td><td>79.23</td><td class="u">82.48</td><td class="b">85.15</td></tr>
<tr><td class="vl" style="text-align:left">RefCOCO+_testB</td><td class="vl">32.00</td><td>55.67</td><td>63.81</td><td>59.97</td><td class="u">67.13</td><td class="b">70.52</td></tr>
<tr><td class="vl" style="text-align:left">RefCOCO+_val</td><td class="vl">65.74</td><td>68.32</td><td>72.26</td><td>70.71</td><td class="u">75.59</td><td class="b">79.05</td></tr>
<tr><td class="vl" style="text-align:left">RefCOCOg_val</td><td class="vl">70.73</td><td>72.74</td><td>75.23</td><td>74.91</td><td class="u">78.92</td><td class="b">81.98</td></tr>
<tr><td class="vl" style="text-align:left">RefCOCOg_test</td><td class="vl">70.81</td><td>72.18</td><td>74.75</td><td>74.48</td><td class="u">77.98</td><td class="b">81.63</td></tr>
<tr><td class="vl" style="text-align:left">BLINK*</td><td class="vl">51.40</td><td>52.84</td><td class="u">53.49</td><td class="b">56.25</td><td>52.33</td><td>52.42</td></tr>
<tr><td class="vl" style="text-align:left">MMVP</td><td class="vl">61.33</td><td>64.00</td><td>65.33</td><td class="u">67.33</td><td class="b">68.00</td><td>65.66</td></tr>
<tr class="gr"><td class="vl" style="text-align:left">Average</td><td class="vl">67.31</td><td>69.07</td><td>72.51</td><td>71.55</td><td class="u">75.03</td><td class="b">77.64</td></tr>
<tr class="bt"><td rowspan="6">VQA</td><td class="vl" style="text-align:left">MMBench</td><td class="vl">60.44</td><td>64.39</td><td class="u">64.62</td><td class="b">65.01</td><td>64.00</td><td>63.77</td></tr>
<tr><td class="vl" style="text-align:left">MMStar</td><td class="vl">39.06</td><td>41.26</td><td class="u">42.73</td><td>41.80</td><td class="b">45.60</td><td>40.80</td></tr>
<tr><td class="vl" style="text-align:left">HallusionBench</td><td class="vl">30.18</td><td>29.89</td><td>30.08</td><td>26.95</td><td class="u">30.56</td><td class="b">35.93</td></tr>
<tr><td class="vl" style="text-align:left">GQA</td><td class="vl">58.99</td><td>59.88</td><td>59.95</td><td>60.04</td><td class="u">60.72</td><td class="b">61.32</td></tr>
<tr><td class="vl" style="text-align:left">SEEDBench</td><td class="vl">67.35</td><td>68.75</td><td class="u">69.60</td><td>69.52</td><td class="b">70.07</td><td>69.54</td></tr>
<tr class="gr"><td class="vl" style="text-align:left">Average</td><td class="vl">51.20</td><td>52.83</td><td>53.40</td><td>52.66</td><td class="u">54.19</td><td class="b">54.27</td></tr>
<tr class="bt"><td rowspan="6">Reasoning</td><td class="vl" style="text-align:left">MMMU</td><td class="vl">38.11</td><td>35.44</td><td class="b">41.33</td><td class="u">40.66</td><td>40.44</td><td>35.66</td></tr>
<tr><td class="vl" style="text-align:left">MathVista MINI</td><td class="vl">36.80</td><td>35.80</td><td>37.40</td><td class="u">38.90</td><td>38.50</td><td class="b">40.00</td></tr>
<tr><td class="vl" style="text-align:left">MMVet</td><td class="vl">35.27</td><td>32.47</td><td class="b">40.59</td><td class="b">40.59</td><td class="u">40.13</td><td>38.30</td></tr>
<tr><td class="vl" style="text-align:left">ScienceQA</td><td class="vl">66.18</td><td>68.66</td><td>68.36</td><td class="u">66.98</td><td class="b">74.71</td><td>66.28</td></tr>
<tr><td class="vl" style="text-align:left">AI2D</td><td class="vl">67.13</td><td>68.65</td><td>69.62</td><td>69.52</td><td class="b">71.85</td><td class="u">69.88</td></tr>
<tr class="gr"><td class="vl" style="text-align:left">Average</td><td class="vl">48.70</td><td>48.20</td><td class="u">51.46</td><td>51.33</td><td class="b">53.13</td><td>50.02</td></tr>
<tr class="bt"><td rowspan="6">OCR</td><td class="vl" style="text-align:left">OCRBench</td><td class="vl">414</td><td>450</td><td>545</td><td>522</td><td class="u">551</td><td class="b">583</td></tr>
<tr><td class="vl" style="text-align:left">DocVQA</td><td class="vl">53.16</td><td>58.36</td><td>68.74</td><td>64.58</td><td class="u">71.81</td><td class="b">72.81</td></tr>
<tr><td class="vl" style="text-align:left">ChartQA</td><td class="vl">60.12</td><td>62.60</td><td>65.04</td><td>65.48</td><td class="u">67.36</td><td class="b">71.96</td></tr>
<tr><td class="vl" style="text-align:left">InfoVQA</td><td class="vl">24.17</td><td>27.81</td><td>31.71</td><td>31.38</td><td class="u">33.47</td><td class="b">33.59</td></tr>
<tr><td class="vl" style="text-align:left">TextVQA</td><td class="vl">56.74</td><td>60.95</td><td>67.78</td><td>66.33</td><td class="b">69.47</td><td class="u">69.40</td></tr>
<tr class="gr"><td class="vl" style="text-align:left">Average</td><td class="vl">47.12</td><td>50.94</td><td>57.55</td><td>55.99</td><td class="u">59.44</td><td class="b">61.21</td></tr>
</table>

<table class="a t3" style="left:3369px;top:2087px;width:1191px;border-top:3px solid #333;border-bottom:3px solid #333">
<tr style="border-bottom:3px solid #333"><td style="width:345px">Model</td><td style="text-align:center;border-left:2px solid #333;width:275px">Fine-Grained</td><td style="text-align:center;border-left:2px solid #333">VQA</td><td style="text-align:center;border-left:2px solid #333">Reasoning</td><td style="text-align:center;border-left:2px solid #333">OCR</td></tr>
<tr><td>InternViT</td><td align="center" style="border-left:2px solid #333">69.76</td><td align="center" style="border-left:2px solid #333">50.48</td><td align="center" class="b" style="border-left:2px solid #333">50.38</td><td align="center" style="border-left:2px solid #333">45.08</td></tr>
<tr style="border-bottom:3px solid #333"><td>GranViT (InternViT)</td><td align="center" class="b" style="border-left:2px solid #333">75.15</td><td align="center" class="b" style="border-left:2px solid #333">51.78</td><td align="center" style="border-left:2px solid #333">50.23</td><td align="center" class="b" style="border-left:2px solid #333">50.13</td></tr>
<tr><td>AIMv2</td><td align="center" style="border-left:2px solid #333">72.28</td><td align="center" style="border-left:2px solid #333">53.53</td><td align="center" style="border-left:2px solid #333">50.09</td><td align="center" style="border-left:2px solid #333">48.18</td></tr>
<tr style="border-bottom:3px solid #333"><td>GranViT (AIMv2)</td><td align="center" class="b" style="border-left:2px solid #333">77.14</td><td align="center" class="b" style="border-left:2px solid #333">55.07</td><td align="center" class="b" style="border-left:2px solid #333">50.59</td><td align="center" class="b" style="border-left:2px solid #333">52.71</td></tr>
<tr><td>SAILViT</td><td align="center" style="border-left:2px solid #333">75.42</td><td align="center" style="border-left:2px solid #333">53.85</td><td align="center" class="b" style="border-left:2px solid #333">52.02</td><td align="center" style="border-left:2px solid #333">54.53</td></tr>
<tr><td>GranViT (SAILViT)</td><td align="center" class="b" style="border-left:2px solid #333">76.79</td><td align="center" class="b" style="border-left:2px solid #333">55.40</td><td align="center" style="border-left:2px solid #333">51.95</td><td align="center" class="b" style="border-left:2px solid #333">56.61</td></tr>
</table>

<script>
(function(){
var cx=3663,cy=976,R=272,ns="http://www.w3.org/2000/svg",g=document.getElementById('radar');
function el(n,a){var e=document.createElementNS(ns,n);for(var k in a)e.setAttribute(k,a[k]);g.appendChild(e);return e;}
for(var i=1;i<=5;i++)el('circle',{cx:cx,cy:cy,r:R*i/5,fill:'none',stroke:i==5?'#999':'#ddd','stroke-width':i==5?2:1});
for(var k=0;k<12;k++){var a=(-90+30*k)*Math.PI/180;el('line',{x1:cx,y1:cy,x2:cx+R*Math.cos(a),y2:cy+R*Math.sin(a),stroke:'#ddd','stroke-width':1});}
var S=[
['#4a7fb5','',[192,94,89,87,75,142,57,65,91,107,96,124],'rgba(74,127,181,0.12)'],
['#3aa03a','10 4 3 4',[202,152,132,140,129,178,125,139,113,69,135,139],'rgba(58,160,58,0.10)'],
['#d94040','2 4',[202,180,158,159,129,192,148,166,197,148,220,195],'rgba(217,64,64,0.10)'],
['#f0a030','9 5',[178,192,183,174,176,209,170,186,208,221,204,107],'rgba(240,160,48,0.10)'],
['#2f7080','',[192,208,202,193,181,204,190,226,215,204,197,230],'rgba(47,112,128,0.08)'],
['#9060d0','10 4 3 4',[231,225,228,222,225,235,235,208,224,173,181,218],'rgba(144,96,208,0.12)']];
S.forEach(function(s){var p=[];for(var k=0;k<12;k++){var a=(-90+30*k)*Math.PI/180;p.push((cx+s[2][k]*Math.cos(a)).toFixed(1)+','+(cy+s[2][k]*Math.sin(a)).toFixed(1));}
el('polygon',{points:p.join(' '),fill:s[3],stroke:s[0],'stroke-width':2.5,'stroke-dasharray':s[1]});
p.forEach(function(q){var c=q.split(',');el('circle',{cx:c[0],cy:c[1],r:4,fill:s[0]});});});
})();
</script>
</body></html>
